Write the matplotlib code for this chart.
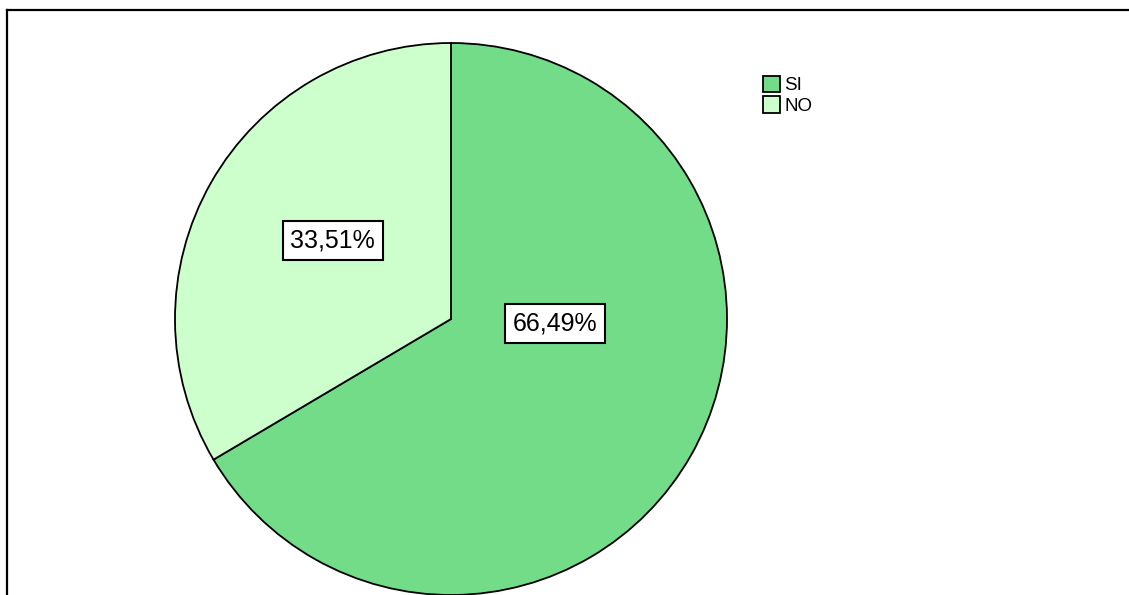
import matplotlib
matplotlib.use('Agg')
import matplotlib.pyplot as plt
from matplotlib.patches import Patch
from matplotlib.lines import Line2D

plt.rcParams['font.family'] = ['Liberation Sans', 'DejaVu Sans']

# respuestas
categorias = ['SI', 'NO']
porcentajes = [66.49, 33.51]
colores = ['#72DC88', '#CCFFCC']
etiquetas = ['66,49%', '33,51%']

fig = plt.figure(figsize=(11.29, 5.95), dpi=100)

# pie area: center ~ (451, 319) px, radius ~ 276 px
r_px = 276
cx, cy = 451, 319
ax = fig.add_axes([(cx - r_px) / 1129, (595 - cy - r_px) / 595,
                   2 * r_px / 1129, 2 * r_px / 595])
wedges, _ = ax.pie(porcentajes, colors=colores, startangle=90, counterclock=False,
                   radius=1.0, wedgeprops=dict(edgecolor='black', linewidth=1.3))
ax.set_xlim(-1, 1)
ax.set_ylim(-1, 1)
ax.set_aspect('equal')
ax.axis('off')

# etiquetas de porcentaje
pos_etq = [(0.377, -0.015), (-0.428, 0.286)]
for (x, y), txt in zip(pos_etq, etiquetas):
    ax.text(x, y, txt, ha='center', va='center', fontsize=18,
            bbox=dict(boxstyle='square,pad=0.3', facecolor='white',
                      edgecolor='black', linewidth=1.5))

# leyenda
handles = [Patch(facecolor=c, edgecolor='black', linewidth=1.3) for c in colores]
fig.legend(handles, categorias, loc='upper left', bbox_to_anchor=(755 / 1129, 1 - 68 / 595),
           frameon=False, fontsize=13.5, handlelength=0.95, handleheight=1.0,
           handletextpad=0.2, labelspacing=0.1, borderaxespad=0)

# marco
fig.add_artist(Line2D([7 / 1129, 7 / 1129], [0, 1 - 9.5 / 595], color='black', linewidth=1.6))
fig.add_artist(Line2D([7 / 1129, 1], [1 - 9.5 / 595, 1 - 9.5 / 595], color='black', linewidth=1.6))

fig.savefig('out.png', dpi=100)
